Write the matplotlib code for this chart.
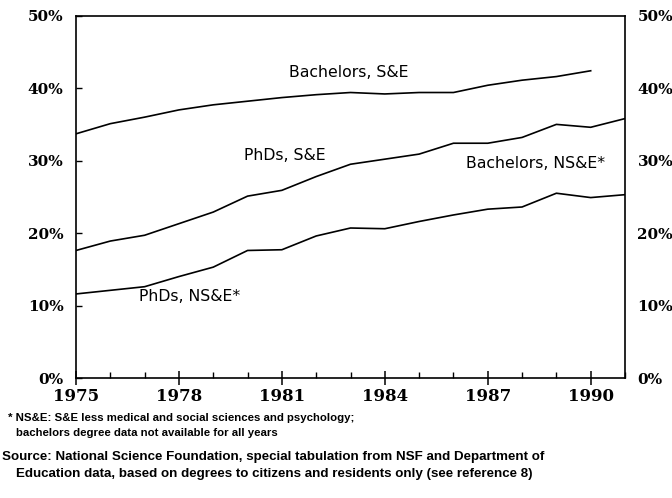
import matplotlib
matplotlib.use("Agg")
import matplotlib.pyplot as plt
from matplotlib.ticker import FixedLocator, FuncFormatter

years = list(range(1975, 1992))
bach_se_years = list(range(1975, 1991))
bach_se = [33.7, 35.1, 36.0, 37.0, 37.7, 38.2, 38.7, 39.1, 39.4, 39.2, 39.4, 39.4, 40.4, 41.1, 41.6, 42.4]
phd_se = [17.6, 18.9, 19.7, 21.3, 22.9, 25.1, 25.9, 27.8, 29.5, 30.2, 30.9, 32.4, 32.4, 33.2, 35.0, 34.6, 35.8]
phd_nse = [11.6, 12.1, 12.6, 14.0, 15.3, 17.6, 17.7, 19.6, 20.7, 20.6, 21.6, 22.5, 23.3, 23.6, 25.5, 24.9, 25.3]

x_ticks = [1975, 1978, 1981, 1984, 1987, 1990]
y_ticks = [0, 10, 20, 30, 40, 50]

labels = [("Bachelors, S&E", 1982.95, 42.2),
          ("PhDs, S&E", 1981.1, 30.75),
          ("Bachelors, NS&E*", 1988.4, 29.6),
          ("PhDs, NS&E*", 1978.3, 11.2)]

W, H = 672, 498
fig = plt.figure(figsize=(W / 100, H / 100), dpi=100)
ax = fig.add_axes([76 / W, 1 - 378 / H, (625 - 76) / W, (378 - 15.7) / H])

for ys, xs in [(bach_se, bach_se_years), (phd_se, years), (phd_nse, years)]:
    ax.plot(xs, ys, color="black", lw=1.2)

for txt, x, y in labels:
    ax.text(x, y, txt, ha="center", va="center", fontsize=11.3,
            family="DejaVu Sans", color="black")

ax.set_xlim(1975, 1991)
ax.set_ylim(0, 50)
for s in ax.spines.values():
    s.set_linewidth(1.2)

ax.xaxis.set_major_locator(FixedLocator(x_ticks))
ax.xaxis.set_minor_locator(FixedLocator(years))
ax.yaxis.set_major_locator(FixedLocator(y_ticks))
ax.yaxis.set_major_formatter(FuncFormatter(lambda v, p: f"{int(v)}%"))

ax.tick_params(axis="x", which="major", direction="inout", length=10, width=1.1,
               labelsize=12, pad=2)
ax.tick_params(axis="x", which="minor", direction="in", length=4, width=1)
ax.tick_params(axis="y", which="major", direction="in", length=4, width=1,
               labelsize=11, pad=9, right=False, labelright=True)
for lab in ax.get_xticklabels() + ax.get_yticklabels():
    lab.set_family("DejaVu Serif")
    lab.set_fontweight("bold")

fn = dict(family="Liberation Sans", fontweight="bold", color="black", va="center")
fig.text(8 / W, 1 - 418 / H, "* NS&E: S&E less medical and social sciences and psychology;", fontsize=8.2, **fn)
fig.text(16 / W, 1 - 433 / H, "bachelors degree data not available for all years", fontsize=8.2, **fn)
fig.text(2 / W, 1 - 457 / H, "Source: National Science Foundation, special tabulation from NSF and Department of", fontsize=9.6, **fn)
fig.text(16 / W, 1 - 474 / H, "Education data, based on degrees to citizens and residents only (see reference 8)", fontsize=9.6, **fn)

fig.savefig("out.png", dpi=100)
